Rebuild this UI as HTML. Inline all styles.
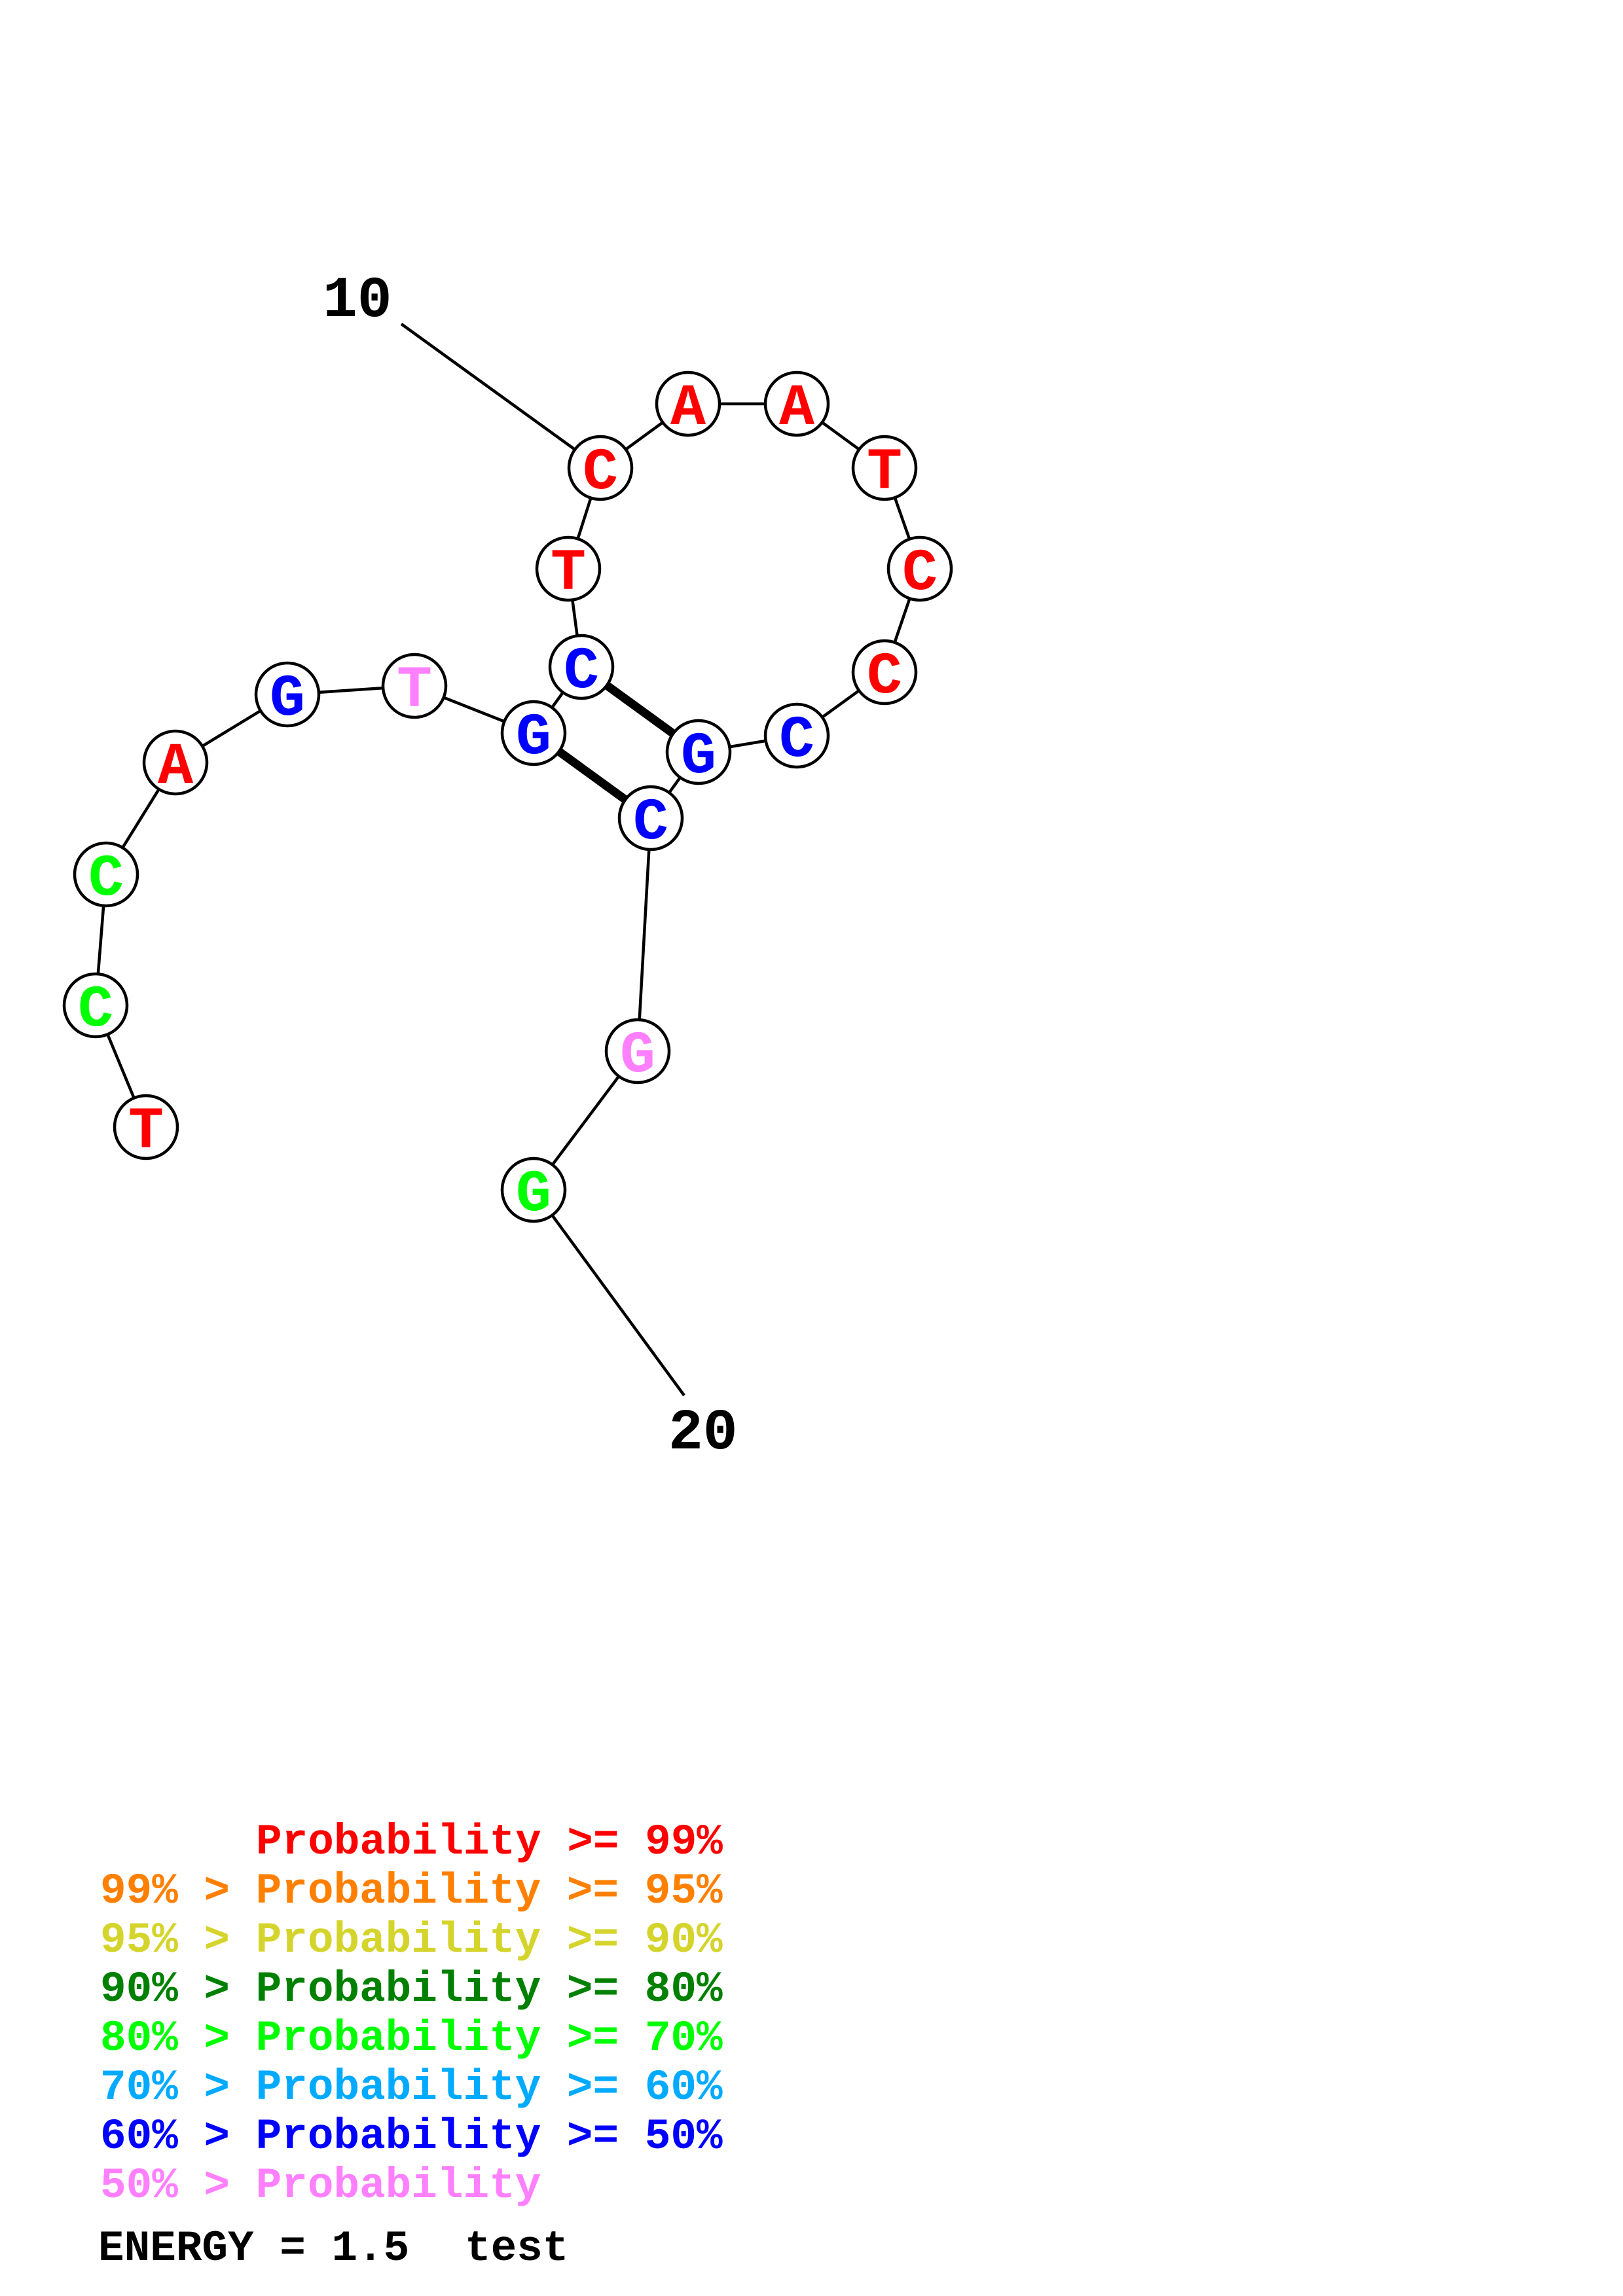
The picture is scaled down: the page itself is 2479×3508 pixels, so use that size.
<!DOCTYPE html>
<html><head><meta charset="utf-8"><style>html,body{margin:0;padding:0;background:#fff}svg{display:block}</style></head>
<body>
<svg width="2479" height="3508" viewBox="0 0 2479 3508" xmlns="http://www.w3.org/2000/svg">
<rect width="2479" height="3508" fill="#fff"/>
<g stroke="#000" stroke-width="4.5" fill="none">
<line x1="613" y1="495" x2="917" y2="715"/>
<polyline points="917,715 1051,617 1217,617 1351,715 1405,869 1351,1027 1217,1124 1067,1149 994,1250"/>
<polyline points="917,715 868,869 888,1019 815,1120 633,1048 439,1061 268,1165 162,1336 146,1536 223,1722"/>
<polyline points="994,1250 974,1606 815,1818 1045,2132"/>
</g>
<g stroke="#000" stroke-width="13">
<line x1="888" y1="1019" x2="1067" y2="1149"/>
<line x1="815" y1="1120" x2="994" y2="1250"/>
</g>
<g stroke="#000" stroke-width="4.5" fill="#fff">
<circle cx="917" cy="715" r="48"/><circle cx="1051" cy="617" r="48"/><circle cx="1217" cy="617" r="48"/>
<circle cx="1351" cy="715" r="48"/><circle cx="1405" cy="869" r="48"/><circle cx="1351" cy="1027" r="48"/>
<circle cx="1217" cy="1124" r="48"/><circle cx="1067" cy="1149" r="48"/><circle cx="994" cy="1250" r="48"/>
<circle cx="868" cy="869" r="48"/><circle cx="888" cy="1019" r="48"/><circle cx="815" cy="1120" r="48"/>
<circle cx="633" cy="1048" r="48"/><circle cx="439" cy="1061" r="48"/><circle cx="268" cy="1165" r="48"/>
<circle cx="162" cy="1336" r="48"/><circle cx="146" cy="1536" r="48"/><circle cx="223" cy="1722" r="48"/>
<circle cx="974" cy="1606" r="48"/><circle cx="815" cy="1818" r="48"/>
</g>
<g font-family="'Liberation Mono', monospace" font-weight="bold" font-size="90" text-anchor="middle">
<text x="917" y="746" fill="#f00">C</text><text x="1051" y="648" fill="#f00">A</text><text x="1217" y="648" fill="#f00">A</text>
<text x="1351" y="746" fill="#f00">T</text><text x="1405" y="900" fill="#f00">C</text><text x="1351" y="1058" fill="#f00">C</text>
<text x="1217" y="1155" fill="#00f">C</text><text x="1067" y="1180" fill="#00f">G</text><text x="994" y="1281" fill="#00f">C</text>
<text x="868" y="900" fill="#f00">T</text><text x="888" y="1050" fill="#00f">C</text><text x="815" y="1151" fill="#00f">G</text>
<text x="633" y="1079" fill="#ff80ff">T</text><text x="439" y="1092" fill="#00f">G</text><text x="268" y="1196" fill="#f00">A</text>
<text x="162" y="1367" fill="#0f0">C</text><text x="146" y="1567" fill="#0f0">C</text><text x="223" y="1753" fill="#f00">T</text>
<text x="974" y="1637" fill="#ff80ff">G</text><text x="815" y="1849" fill="#0f0">G</text>
</g>
<g font-family="'Liberation Mono', monospace" font-weight="bold" font-size="88" fill="#000">
<text x="493" y="483">10</text>
<text x="1021" y="2213">20</text>
</g>
<g font-family="'Liberation Mono', monospace" font-weight="bold" font-size="66">
<text x="391" y="2832" fill="#f00">Probability &gt;= 99%</text>
<text x="153" y="2907" fill="#ff8000">99% &gt; Probability &gt;= 95%</text>
<text x="153" y="2982" fill="#d4d42c">95% &gt; Probability &gt;= 90%</text>
<text x="153" y="3057" fill="#008000">90% &gt; Probability &gt;= 80%</text>
<text x="153" y="3132" fill="#00ff00">80% &gt; Probability &gt;= 70%</text>
<text x="153" y="3207" fill="#00aaff">70% &gt; Probability &gt;= 60%</text>
<text x="153" y="3282" fill="#0000ff">60% &gt; Probability &gt;= 50%</text>
<text x="153" y="3357" fill="#ff80ff">50% &gt; Probability</text>
<text x="150" y="3453" fill="#000">ENERGY = 1.5</text>
<text x="710" y="3453" fill="#000">test</text>
</g>
</svg>
</body></html>
